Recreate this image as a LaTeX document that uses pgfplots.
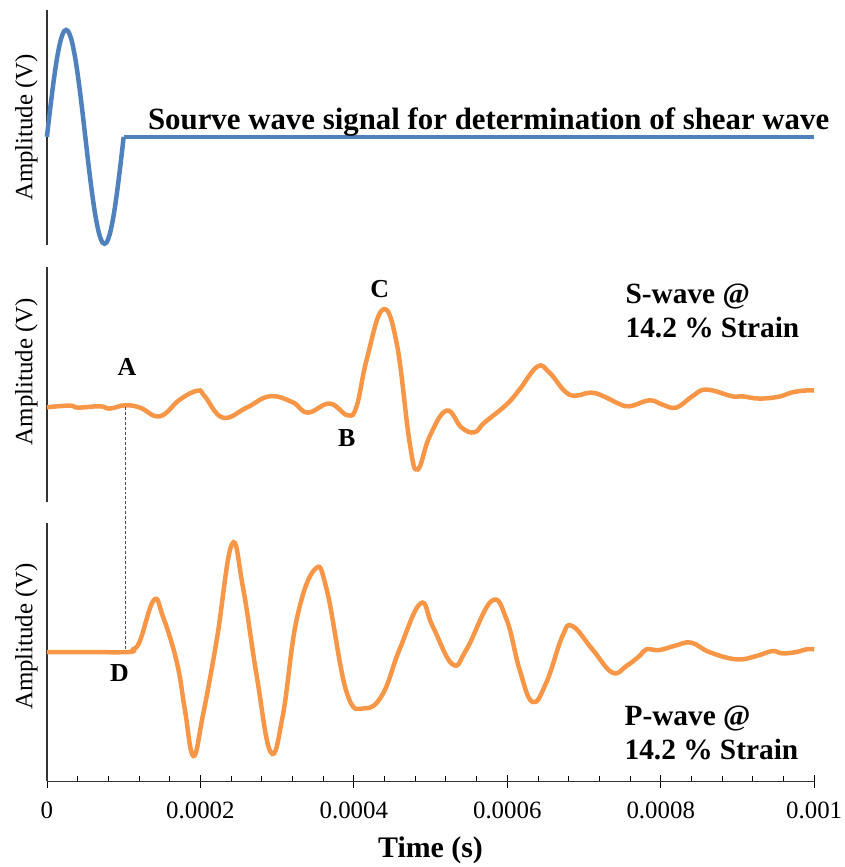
\documentclass[border=0pt]{standalone}
\usepackage{fontspec}
\setmainfont{Liberation Serif}
\usepackage{pgfplots}
\pgfplotsset{compat=1.18}
\definecolor{sblue}{HTML}{4F81BD}
\definecolor{sorange}{HTML}{F79646}
\begin{document}
\begin{tikzpicture}
\pgfplotsset{
  panel/.style={scale only axis, width=768bp, xmin=0, xmax=1000, ymin=0, clip=false,
    axis y line*=left, ytick=\empty,
    axis line style={black!80, line width=1.1bp},
    ylabel={Amplitude (V)},
    ylabel style={at={([xshift=-9bp]axis description cs:0,#1)}, anchor=south, inner sep=0pt, font=\fontsize{25}{30}\selectfont},
  },
  wave/.style={line width=4.5bp, smooth, tension=0.7, no markers},
}
% ---------- bottom: P-wave ----------
\begin{axis}[panel=0.562, name=bot, at={(0,0)}, anchor=south west, height=258bp, ymax=258,
  axis x line*=bottom,
  xtick={0,200,400,600,800,1000},
  xticklabels={0,0.0002,0.0004,0.0006,0.0008,0.001},
  minor x tick num=4,
  tick align=center, major tick length=13bp, minor tick length=5bp,
  minor x tick style={yshift=2.5bp},
  tick style={black, line width=0.9bp},
  xticklabel style={font=\fontsize{25}{30}\selectfont, anchor=north, inner sep=0pt, yshift=-14bp},
  xlabel={\textbf{Time (s)}},
  xlabel style={at={([yshift=-69bp]axis description cs:0.5,0)}, anchor=center, font=\fontsize{30}{36}\selectfont},
]
\addplot[wave, sorange] coordinates {(0,129.3)(46.9,129.3)(105.5,129.3)(112,132)(121.1,140.3)(139.3,181.3)(151,165.3)(169.3,119)(179.7,72)(190.8,25.3)(203.1,65.3)(221.4,142)(240.9,237)(255.2,195.3)(273.4,105.3)(291.7,29)(307.3,65.3)(325.5,162)(349,212)(364.6,192)(390.6,89)(414.1,73)(437.5,87)(459.6,132)(486.9,178)(502.6,155.3)(528.6,117)(546.9,132)(579.4,180.3)(599,162)(615.9,112)(632.8,79.3)(651,99)(671.9,145.3)(684.9,155.3)(710.9,132)(736.9,108.7)(755.2,115.3)(772.1,125.3)(781.3,132)(798.2,131.3)(820.3,136)(839.8,138.7)(863.3,129.3)(898.4,122)(924.5,125.3)(945.3,130.3)(958.3,128)(976.6,129.3)(989.6,132)(1000,132)};
\coordinate (dD) at (axis cs:102,131);
\node[font=\fontsize{26}{30}\selectfont\bfseries] at (axis cs:94.4,108) {D};
\node[font=\fontsize{29.5}{34}\selectfont\bfseries, anchor=base west, inner sep=0pt] at (axis cs:752.6,55.3) {P-wave @};
\node[font=\fontsize{29.5}{34}\selectfont\bfseries, anchor=base west, inner sep=0pt] at (axis cs:752.6,22) {14.2 \% Strain};
\end{axis}
% ---------- middle: S-wave ----------
\begin{axis}[panel=0.555, name=mid, at={(0,279bp)}, anchor=south west, height=236bp, ymax=236, axis x line=none]
\addplot[wave, sorange] coordinates {(0,95.3)(29.9,97)(40.4,95)(69,96.3)(82,94)(101.6,97.3)(121.1,95)(147.1,86.3)(173.2,103)(196.6,112)(205.7,106.3)(229.2,85)(260.4,95)(290.4,106.3)(320.3,100.3)(339.8,90)(368.5,99)(391.9,87.3)(403.6,96.3)(416.7,143)(437.5,193)(455.7,160)(472.7,60)(483.1,33)(498.7,66)(520.8,92)(540.4,75)(557.3,70.3)(570.3,80)(598.9,98)(615.9,113)(639.3,136)(655,130)(681,108)(709.6,110)(729.2,105)(742.2,100)(759.1,96.3)(785.2,102.3)(802.1,98)(820.3,95)(841.1,106.3)(859.4,113)(893.2,106.3)(906.3,106.3)(928.4,104)(954.4,106)(970.1,110)(987,112)(1000,112.3)};
\coordinate (dA) at (axis cs:102,96);
\node[font=\fontsize{26}{30}\selectfont\bfseries] at (axis cs:104.2,136) {A};
\node[font=\fontsize{26}{30}\selectfont\bfseries] at (axis cs:390.6,64) {B};
\node[font=\fontsize{26}{30}\selectfont\bfseries] at (axis cs:433.6,213.5) {C};
\node[font=\fontsize{29.5}{34}\selectfont\bfseries, anchor=base west, inner sep=0pt] at (axis cs:753.9,199) {S-wave @};
\node[font=\fontsize{29.5}{34}\selectfont\bfseries, anchor=base west, inner sep=0pt] at (axis cs:753.9,165) {14.2 \% Strain};
\end{axis}
% ---------- top: source ----------
\begin{axis}[panel=0.5, name=top, at={(0,537bp)}, anchor=south west, height=235bp, ymax=235, axis x line=none]
\addplot[wave, sblue] coordinates {(0,108)(5,141.1)(10,170.9)(15,194.6)(20,209.8)(25,215)(30,209.8)(35,194.6)(40,170.9)(45,141.1)(50,108)(55,74.9)(60,45.1)(65,21.4)(70,6.2)(75,1)(80,6.2)(85,21.4)(90,45.1)(95,74.9)(100,108)};
\addplot[line width=4.5bp, sblue, no markers] coordinates {(100,108)(1000,108)};
\node[font=\fontsize{31}{36}\selectfont\bfseries, anchor=base west, inner sep=0pt] at (axis cs:131.5,115.7) {Sourve wave signal for determination of shear wave};
\end{axis}
\draw[black!70, line width=0.8bp, dash pattern=on 3bp off 2bp] (dA) -- (dD);
\path[use as bounding box] (-47bp,-85bp) rectangle (798bp,782bp);
\end{tikzpicture}
\end{document}
